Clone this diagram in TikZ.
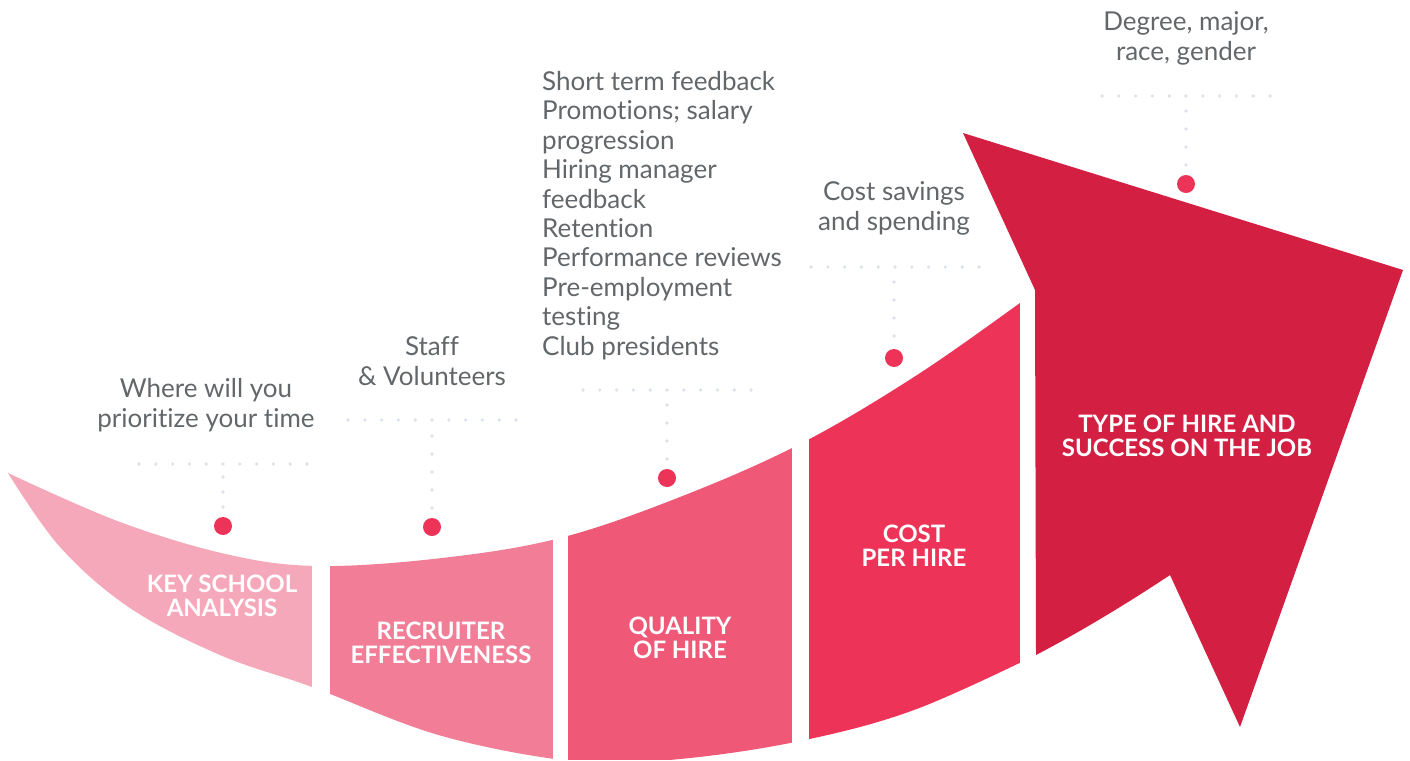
\documentclass[tikz,border=0pt]{standalone}
\usepackage{fontspec}
\setmainfont{Lato}[Ligatures={NoCommon}]
\definecolor{stageA}{HTML}{F6A8BB}
\definecolor{stageB}{HTML}{F17E96}
\definecolor{stageC}{HTML}{EF5876}
\definecolor{stageD}{HTML}{EE3358}
\definecolor{stageE}{HTML}{D31F42}
\definecolor{pin}{HTML}{EE3358}
\definecolor{dotgray}{HTML}{DCE1EA}
\definecolor{textgray}{HTML}{63676A}
\begin{document}
\begin{tikzpicture}[x=1pt,y=-1pt,
  graytext/.style={text=textgray, font=\fontsize{26}{29.4}\selectfont, align=center, inner sep=0pt},
  stagelabel/.style={text=white, font=\fontsize{24}{24}\selectfont\bfseries, align=center, inner sep=0pt},
  pindot/.style={circle, fill=pin, minimum size=18pt, inner sep=0pt},
  dotrow/.style={draw=dotgray, line width=3.6pt, line cap=round, dash pattern=on 0pt off 16.8pt},
  dotcol/.style={draw=dotgray, line width=3.6pt, line cap=round, dash pattern=on 0pt off #1},
  dotcol/.default=18pt]
\useasboundingbox (0,0) rectangle (1410,760);

% curved band, cut into four stages
\begin{scope}
  \clip plot[smooth, tension=0.6] coordinates {(8,473) (120,522) (230,555) (320,566) (442,558) (560,538) (680,497) (800,444) (914,377) (1020,303) (1036,290)}
     -- plot[smooth, tension=0.6] coordinates {(1036,655) (914,710) (800,741) (680,759) (580,762) (442,736) (312,687) (220,655) (130,608) (60,547) (8,473)} -- cycle;
  \fill[stageA] (0,0) rectangle (312,760);
  \fill[stageB] (330,0) rectangle (553,760);
  \fill[stageC] (568,0) rectangle (792,760);
  \fill[stageD] (809,0) rectangle (1020,760);
\end{scope}

% arrow head
\fill[stageE] (963,133) -- (1035,290) -- (1036,655) .. controls (1080,632) and (1128,603) .. (1170,575)
  -- (1240,727) -- (1403,270) -- cycle;

% stage labels
\node[stagelabel] (s1) at (222,596) {KEY SCHOOL\\ANALYSIS};
\node[stagelabel] (s2) at (441,643) {RECRUITER\\EFFECTIVENESS};
\node[stagelabel] (s3) at (680,638) {QUALITY\\OF HIRE};
\node[stagelabel] (s4) at (914,546) {COST\\PER HIRE};
\node[stagelabel] (s5) at (1187,436) {TYPE OF HIRE AND\\SUCCESS ON THE JOB};

% pins
\node[pindot] (d1) at (223,526) {};
\node[pindot] (d2) at (432,527) {};
\node[pindot] (d3) at (667,478) {};
\node[pindot] (d4) at (894,358) {};
\node[pindot] (d5) at (1186,184) {};

% dotted leaders
\coordinate (r1a) at (139,464); \coordinate (r1b) at (308,464); \coordinate (v1) at (223,477);
\coordinate (r2a) at (348,420); \coordinate (r2b) at (517,420); \coordinate (v2) at (432,436);
\coordinate (r3a) at (583,390); \coordinate (r3b) at (752,390); \coordinate (v3) at (667,405);
\coordinate (r4a) at (811,267); \coordinate (r4b) at (980,267); \coordinate (v4) at (894,282);
\coordinate (r5a) at (1102,96); \coordinate (r5b) at (1271,96); \coordinate (v5) at (1186,111);
\draw[dotrow] (r1a) -- (r1b);
\draw[dotrow] (r2a) -- (r2b);
\draw[dotrow] (r3a) -- (r3b);
\draw[dotrow] (r4a) -- (r4b);
\draw[dotrow] (r5a) -- (r5b);
\draw[dotcol=15pt] (v1) -- (d1.north);
\draw[dotcol] (v2) -- (d2.north);
\draw[dotcol] (v3) -- (d3.north);
\draw[dotcol] (v4) -- (d4.north);
\draw[dotcol] (v5) -- (d5.north);

% notes (anchored at the baseline of their last line)
\node[graytext, anchor=base] (n1) at (206,427) {Where will you\\prioritize your time};
\node[graytext, anchor=base] (n2) at (432,385) {Staff\\\& Volunteers};
\node[graytext, anchor=base west, align=left] (n3) at (542,355) {Short term feedback\\Promotions; salary\\progression\\Hiring manager\\feedback\\Retention\\Performance reviews\\Pre-employment\\testing\\Club presidents};
\node[graytext, anchor=base] (n4) at (894,230) {Cost savings\\and spending};
\node[graytext, anchor=base] (n5) at (1186,60) {Degree, major,\\race, gender};
\end{tikzpicture}
\end{document}
